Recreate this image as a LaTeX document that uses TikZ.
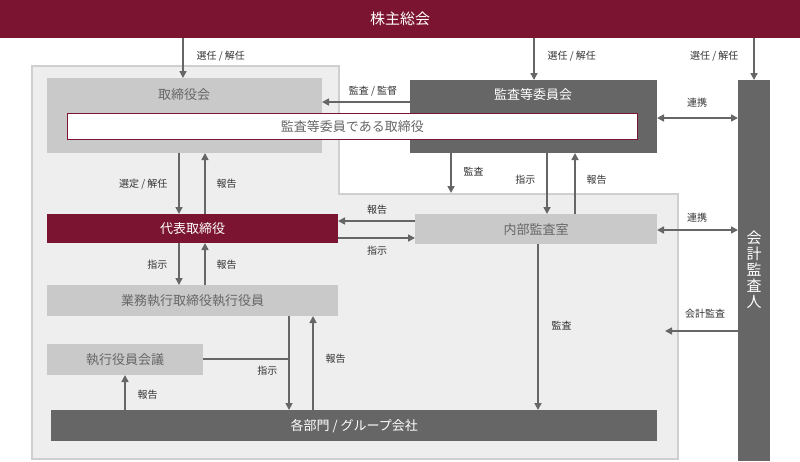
\documentclass[tikz,border=0pt]{standalone}
\usepackage{fontspec}
\setmainfont{Noto Sans CJK JP}
\usetikzlibrary{arrows.meta}
\definecolor{dred}{HTML}{7B1430}
\definecolor{dgray}{HTML}{666666}
\definecolor{lgray}{HTML}{C9C9C9}
\definecolor{bgray}{HTML}{EEEEEE}
\definecolor{egray}{HTML}{CFCFCF}
\tikzset{
 box/.style={inner sep=0pt,anchor=north west,font=\fontsize{13}{15}\selectfont},
 arr/.style={-{Triangle[length=7pt,width=7pt]},line width=1.6pt,draw=dgray},
 darr/.style={{Triangle[length=7pt,width=7pt]}-{Triangle[length=7pt,width=7pt]},line width=1.6pt,draw=dgray},
 lab/.style={font=\fontsize{10}{12}\selectfont,text=black!80}
}
\newcommand{\bx}[7]{\node[box,fill=#5,text=#6,minimum width=#3pt,minimum height=#4pt] (#1) at (#2) {#7};}
\begin{document}
\begin{tikzpicture}[x=1pt,y=-1pt]
\useasboundingbox (0,0) rectangle (800,461);
\fill[bgray,draw=egray,line width=1.5pt] (32,66) -- (339,66) -- (339,194) -- (678,194) -- (678,459) -- (32,459) -- cycle;
\bx{top}{0,0}{800}{38}{dred}{white}{\fontsize{15}{17}\selectfont 株主総会}
\bx{tb}{47,78}{275}{75}{lgray}{dgray}{}
\node[box,anchor=north,text=dgray] at (184,88) {取締役会};
\bx{ac}{410,80}{247}{73}{dgray}{white}{}
\node[box,anchor=north,text=white] at (533,88) {監査等委員会};
\node[box,fill=white,draw=dred,line width=0.8pt,minimum width=570pt,minimum height=26pt,text=dgray] (wb) at (67,113) {監査等委員である取締役};
\node[box,fill=dgray,minimum width=32pt,minimum height=381pt] (kk) at (738,80) {};
\node[font=\fontsize{15}{16}\selectfont,text=white,align=center,inner sep=0pt] at (754,270) {会\\計\\監\\査\\人};
\bx{rep}{47,214}{291}{29}{dred}{white}{代表取締役}
\bx{ia}{415,214}{242}{30}{lgray}{dgray}{内部監査室}
\bx{ex}{47,285}{291}{31}{lgray}{dgray}{業務執行取締役執行役員}
\bx{em}{47,344}{156}{31}{lgray}{dgray}{執行役員会議}
\bx{dep}{51,410}{606}{31}{dgray}{white}{各部門 / グループ会社}
% top arrows
\draw[arr] (183,38) -- (183,78); \node[lab,anchor=west] at (193,56) {選任 / 解任};
\draw[arr] (534,38) -- (534,80); \node[lab,anchor=west] at (544,56) {選任 / 解任};
\draw[arr] (754,38) -- (754,80); \node[lab,anchor=east] at (742,56) {選任 / 解任};
\draw[arr] (410,102) -- (322,102); \node[lab] at (373,91) {監査 / 監督};
\draw[darr] (657,118) -- (738,118); \node[lab] at (697,103) {連携};
\draw[arr] (451,153) -- (451,193); \node[lab,anchor=west] at (460,172) {監査};
\draw[arr] (547,153) -- (547,214); \node[lab,anchor=east] at (539,180) {指示};
\draw[arr] (575,214) -- (575,153); \node[lab,anchor=west] at (583,180) {報告};
\draw[arr] (415,221) -- (338,221); \node[lab] at (377,210) {報告};
\draw[arr] (338,238) -- (415,238); \node[lab] at (377,251) {指示};
\draw[darr] (657,230) -- (738,230); \node[lab] at (697,218) {連携};
\draw[arr] (179,153) -- (179,214); \node[lab,anchor=east] at (171,184) {選定 / 解任};
\draw[arr] (205,214) -- (205,153); \node[lab,anchor=west] at (213,184) {報告};
\draw[arr] (179,243) -- (179,285); \node[lab,anchor=east] at (171,265) {指示};
\draw[arr] (205,285) -- (205,243); \node[lab,anchor=west] at (213,265) {報告};
\draw[line width=1.6pt,dgray] (203,359) -- (289,359);
\draw[arr] (289,316) -- (289,410); \node[lab,anchor=east] at (281,371) {指示};
\draw[arr] (313,410) -- (313,316); \node[lab,anchor=west] at (322,359) {報告};
\draw[arr] (125,410) -- (125,375); \node[lab,anchor=west] at (134,395) {報告};
\draw[arr] (538,244) -- (538,410); \node[lab,anchor=west] at (548,326) {監査};
\draw[arr] (738,331) -- (665,331); \node[lab] at (705,314) {会計監査};
\end{tikzpicture}
\end{document}
